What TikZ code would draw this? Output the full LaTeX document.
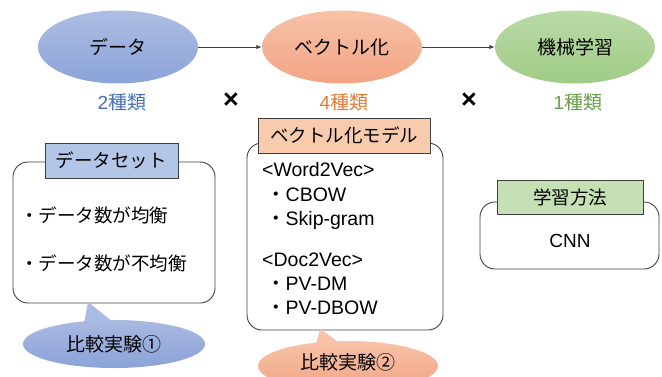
\documentclass[tikz,border=0pt]{standalone}
\usepackage{fontspec}
\setmainfont{Liberation Sans}
\newfontfamily\jp{Noto Sans CJK JP}
\usetikzlibrary{arrows.meta,shapes.geometric}

\definecolor{blueTop}{HTML}{AEBDE3}
\definecolor{blueBot}{HTML}{8BA3D8}
\definecolor{orangeTop}{HTML}{F7C2A8}
\definecolor{orangeBot}{HTML}{F3A484}
\definecolor{greenTop}{HTML}{BADAA6}
\definecolor{greenBot}{HTML}{A0CC86}
\definecolor{blueTxt}{HTML}{4570BE}
\definecolor{orangeTxt}{HTML}{E27A36}
\definecolor{greenTxt}{HTML}{679C48}
\definecolor{blueTitle}{HTML}{B4C6E7}
\definecolor{orangeTitle}{HTML}{F8CBAD}
\definecolor{greenTitle}{HTML}{C5E0B4}
\definecolor{edge}{HTML}{404040}

\begin{document}
\begin{tikzpicture}[x=1pt,y=-1pt,
  stage/.style={ellipse, minimum width=160pt, minimum height=73pt, inner sep=0pt,
    font=\jp\fontsize{19}{23}\selectfont},
  count/.style={inner sep=0pt, font=\fontsize{19}{23}\selectfont},
  times/.style={inner sep=0pt, font=\bfseries\fontsize{27}{30}\selectfont},
  flow/.style={draw=edge, line width=1pt, -{Latex[length=5.5pt,width=4.5pt]}},
  panel/.style={draw=edge, line width=0.9pt, rounded corners=15pt, fill=white, inner sep=0pt},
  title/.style={draw=edge, line width=0.9pt, inner sep=0pt, font=\jp\fontsize{18.5}{22}\selectfont},
  item/.style={inner sep=0pt, anchor=west, font=\fontsize{19.5}{23}\selectfont},
  callout/.style={ellipse, inner sep=0pt, font=\jp\fontsize{19}{23}\selectfont}
]
\useasboundingbox (0,0) rectangle (662,376);

% pipeline stages
\node[stage, top color=blueTop, bottom color=blueBot] (data) at (118,47) {データ};
\node[stage, top color=orangeTop, bottom color=orangeBot] (vec) at (342,47) {ベクトル化};
\node[stage, top color=greenTop, bottom color=greenBot] (ml) at (575,47) {機械学習};
\draw[flow] (data) -- (vec);
\draw[flow] (vec) -- (ml);

% number of variants per stage
\node[count, text=blueTxt] (n1) at (122,102) {2{\jp 種類}};
\node[count, text=orangeTxt] (n2) at (344,102) {4{\jp 種類}};
\node[count, text=greenTxt] (n3) at (578,102) {1{\jp 種類}};
\node[times] (x1) at (231,101) {×};
\node[times] (x2) at (469,101) {×};

% data set panel
\node[panel, minimum width=202pt, minimum height=141pt] (setbox) at (114,232.5) {};
\node[title, fill=blueTitle, minimum width=133pt, minimum height=35pt] (settitle) at (111.5,160.5) {データセット};
\node[item, font=\jp\fontsize{18.5}{22}\selectfont] (set1) at (20,215) {・データ数が均衡};
\node[item, font=\jp\fontsize{18.5}{22}\selectfont] (set2) at (20,263) {・データ数が不均衡};

% vectorisation model panel
\node[panel, minimum width=196pt, minimum height=187pt] (modbox) at (345,236.5) {};
\node[title, fill=orangeTitle, minimum width=172pt, minimum height=35pt] (modtitle) at (344,135.5) {ベクトル化モデル};
\node[item] (w2v) at (262,170) {<Word2Vec>};
\node[item] (cbow) at (266,195) {{\jp ・}CBOW};
\node[item] (skip) at (266,220) {{\jp ・}Skip-gram};
\node[item] (d2v) at (262,260) {<Doc2Vec>};
\node[item] (pvdm) at (266,284) {{\jp ・}PV-DM};
\node[item] (pvdbow) at (266,308) {{\jp ・}PV-DBOW};

% learning method panel
\node[panel, minimum width=179pt, minimum height=67pt] (lrnbox) at (569.5,235.5) {};
\node[title, fill=greenTitle, minimum width=146pt, minimum height=34pt] (lrntitle) at (570,197) {学習方法};
\node[count] (cnn) at (570,241) {CNN};

% comparison callouts
\coordinate (tip1) at (88,302);
\coordinate (tip2) at (320,329);
\fill[blueTop!92!blueBot] (83,328) -- (tip1) -- (118,326) -- cycle;
\node[callout, top color=blueTop!85!blueBot, bottom color=blueBot, minimum width=182pt, minimum height=48pt] (cmp1) at (114,344) {比較実験①};
\fill[orangeTop] (314,352) -- (tip2) -- (350,350) -- cycle;
\node[callout, top color=orangeTop, bottom color=orangeBot, minimum width=180pt, minimum height=50pt] (cmp2) at (348,366) {};
\node[inner sep=0pt, font=\jp\fontsize{19}{23}\selectfont] (cmp2txt) at (348,362) {比較実験②};
\end{tikzpicture}
\end{document}
